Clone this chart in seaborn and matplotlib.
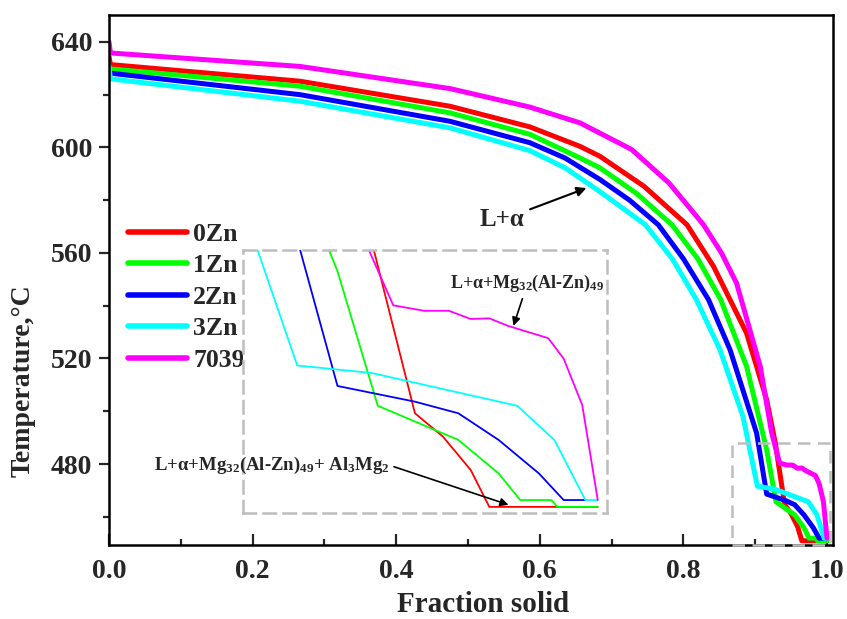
"""
Scheil solidification curves (fraction solid vs temperature) for Al-Zn-Mg alloys,
with a zoomed inset of the end-of-solidification region.
"""
import matplotlib
matplotlib.use("Agg")
import matplotlib.pyplot as plt
import seaborn as sns
import pandas as pd
from matplotlib.patches import Rectangle
from matplotlib.ticker import MultipleLocator, FormatStrFormatter

# ── 1. Data ───────────────────────────────────────────────
alloys = ["0Zn", "1Zn", "2Zn", "3Zn", "7039"]
colors = ["#FF0000", "#00FF00", "#0000FF", "#00FFFF", "#FF00FF"]

fs_0zn = [0.0, 0.002, 0.266, 0.475, 0.586, 0.656, 0.684, 0.745, 0.805, 0.842, 0.888, 0.916,
          0.928, 0.941, 0.950, 0.959, 0.965, 0.987, 1.0]
T_0zn = [634.5, 631.4, 625.1, 615.6, 607.8, 600.4, 596.6, 585.3, 570.7, 554.9, 529.6, 504.3,
         488.0, 464.6, 461.2, 456.3, 450.9, 450.9, 450.9]

fs_1zn = [0.0, 0.266, 0.475, 0.586, 0.656, 0.684, 0.735, 0.784, 0.820, 0.852, 0.888, 0.916,
          0.929, 0.955, 0.968, 0.975, 0.985, 0.987, 1.0]
T_1zn = [629.8, 623.2, 613.1, 605.0, 596.0, 592.2, 582.5, 570.7, 557.8, 542.3, 517.0, 485.4,
         465.7, 460.7, 455.8, 451.9, 451.9, 450.9, 450.9]

fs_2zn = [0.0, 0.266, 0.475, 0.586, 0.635, 0.684, 0.725, 0.765, 0.800, 0.835, 0.865, 0.902,
          0.916, 0.941, 0.955, 0.968, 0.981, 0.989, 0.996]
T_2zn = [628.2, 620.0, 609.9, 601.8, 596.0, 587.8, 580.0, 570.7, 557.8, 542.3, 523.3, 491.7,
         468.6, 466.3, 464.6, 460.7, 455.8, 451.9, 451.9]

fs_3zn = [0.0, 0.002, 0.266, 0.475, 0.586, 0.635, 0.684, 0.747, 0.785, 0.818, 0.851, 0.883,
          0.903, 0.927, 0.974, 0.986, 0.996, 1.0]
T_3zn = [630.7, 626.0, 617.5, 607.4, 598.8, 592.3, 583.2, 570.7, 557.6, 542.3, 523.3, 498.0,
         471.6, 470.5, 465.7, 460.7, 451.9, 451.9]

fs_7039 = [0.0, 0.002, 0.266, 0.475, 0.586, 0.656, 0.728, 0.780, 0.828, 0.853, 0.874, 0.907,
           0.923, 0.934, 0.944, 0.952, 0.959, 0.965, 0.971, 0.984, 0.989, 0.995, 1.0]
T_7039 = [640.0, 635.8, 630.7, 622.3, 615.3, 609.3, 599.2, 586.5, 570.7, 560.0, 548.6, 517.0,
          491.7, 480.4, 479.6, 479.6, 478.4, 478.5, 477.4, 475.6, 472.6, 465.8, 451.9]

series = [(fs_0zn, T_0zn), (fs_1zn, T_1zn), (fs_2zn, T_2zn), (fs_3zn, T_3zn), (fs_7039, T_7039)]
frames = []
for name, (fs, T) in zip(alloys, series):
    frames.append(pd.DataFrame({"fs": fs, "T": T, "alloy": name}))
df = pd.concat(frames, ignore_index=True)

# zoom window shown in the inset
zoom_x = (0.867, 1.004)
zoom_T = (449.3, 487.9)
inset_xlim = (0.8855, 1.003)
inset_ylim = (450.0, 488.5)

# ── 2. Style ──────────────────────────────────────────────
sns.set_style("ticks")
plt.rcParams["font.family"] = ["Liberation Serif", "DejaVu Serif"]
plt.rcParams["font.weight"] = "bold"
plt.rcParams["axes.labelweight"] = "bold"
plt.rcParams["mathtext.fontset"] = "custom"
plt.rcParams["mathtext.rm"] = "Liberation Serif:bold"
plt.rcParams["mathtext.it"] = "Liberation Serif:bold"
plt.rcParams["mathtext.bf"] = "Liberation Serif:bold"

fig = plt.figure(figsize=(8.47, 6.19), dpi=100)
ax = fig.add_axes([0.1287, 0.1195, 0.8548, 0.8563])

# ── 3. Main curves ────────────────────────────────────────
for name, col in zip(alloys, colors):
    sub = df[df["alloy"] == name]
    sns.lineplot(data=sub, x="fs", y="T", sort=False, estimator=None,
                 color=col, lw=3.6, label=name, ax=ax)

ax.set_xlim(0, 1.0084)
ax.set_ylim(449.3, 650.2)
ax.xaxis.set_major_locator(MultipleLocator(0.2))
ax.xaxis.set_minor_locator(MultipleLocator(0.1))
ax.xaxis.set_major_formatter(FormatStrFormatter("%.1f"))
ax.yaxis.set_minor_locator(MultipleLocator(20))
ax.set_yticks([480, 520, 560, 600, 640])

for sp in ax.spines.values():
    sp.set_linewidth(1.8)
    sp.set_color("black")
ax.tick_params(axis="x", which="major", direction="in", length=8, width=1.6,
               labelsize=20, pad=10, top=False)
ax.tick_params(axis="x", which="minor", direction="in", length=4.5, width=1.6, top=False)
ax.tick_params(axis="y", which="major", direction="out", length=7, width=1.6,
               labelsize=20, pad=5, right=False)
ax.tick_params(axis="y", which="minor", direction="out", length=4, width=1.6, right=False)

ax.set_xlabel("Fraction solid", fontsize=21)
ax.set_ylabel("Temperature,°C", fontsize=20)
ax.xaxis.set_label_coords(0.517, -0.086)
ax.yaxis.set_label_coords(-0.102, 0.31)

leg = ax.legend(loc="upper left", bbox_to_anchor=(0.026, 0.608), frameon=False,
                fontsize=18.5, handlelength=2.3, handletextpad=0.25, labelspacing=0.33,
                borderpad=0, borderaxespad=0)
for line in leg.get_lines():
    line.set_linewidth(4)

# dashed box marking the zoomed region
ax.add_patch(Rectangle((zoom_x[0], zoom_T[0]), zoom_x[1] - zoom_x[0], zoom_T[1] - zoom_T[0],
                       fill=False, ec="#BDBDBD", lw=1.8, ls=(0, (5, 3)), zorder=5,
                       clip_on=False))

ax.annotate("L+α", xy=(0.665, 584.6), xytext=(0.547, 572.5), fontsize=18,
            ha="center", va="center",
            arrowprops=dict(arrowstyle="-|>", color="black", lw=1.5, mutation_scale=14,
                            shrinkA=2, shrinkB=0))

# ── 4. Inset ──────────────────────────────────────────────
ax_in = fig.add_axes([0.2869, 0.1712, 0.4298, 0.4249])
for name, col in zip(alloys, colors):
    sub = df[df["alloy"] == name]
    sns.lineplot(data=sub, x="fs", y="T", sort=False, estimator=None,
                 color=col, lw=1.3, legend=False, ax=ax_in)
ax_in.set_xlim(*inset_xlim)
ax_in.set_ylim(*inset_ylim)
ax_in.set_xticks([])
ax_in.set_yticks([])
ax_in.set_xlabel("")
ax_in.set_ylabel("")
for sp in ax_in.spines.values():
    sp.set_visible(True)
    sp.set_color("#BDBDBD")
    sp.set_linewidth(1.8)
    sp.set_linestyle((0, (5, 3)))

ax_in.annotate(r"L+α+Mg$_{32}$(Al-Zn)$_{49}$", xy=(0.9728, 477.4), xytext=(0.9773, 483.6),
               fontsize=13, ha="center", va="center",
               arrowprops=dict(arrowstyle="-|>", color="black", lw=1.2, mutation_scale=12,
                               shrinkA=1, shrinkB=0))
ax_in.annotate(r"L+α+Mg$_{32}$(Al-Zn)$_{49}$+ Al$_3$Mg$_2$", xy=(0.9712, 451.2),
               xytext=(0.8947, 457.0), fontsize=13.5, ha="center", va="center",
               annotation_clip=False,
               arrowprops=dict(arrowstyle="-|>", color="black", lw=1.2, mutation_scale=12,
                               relpos=(1.0, 0.5), shrinkA=1, shrinkB=0))

fig.savefig("out.png", dpi=100)
